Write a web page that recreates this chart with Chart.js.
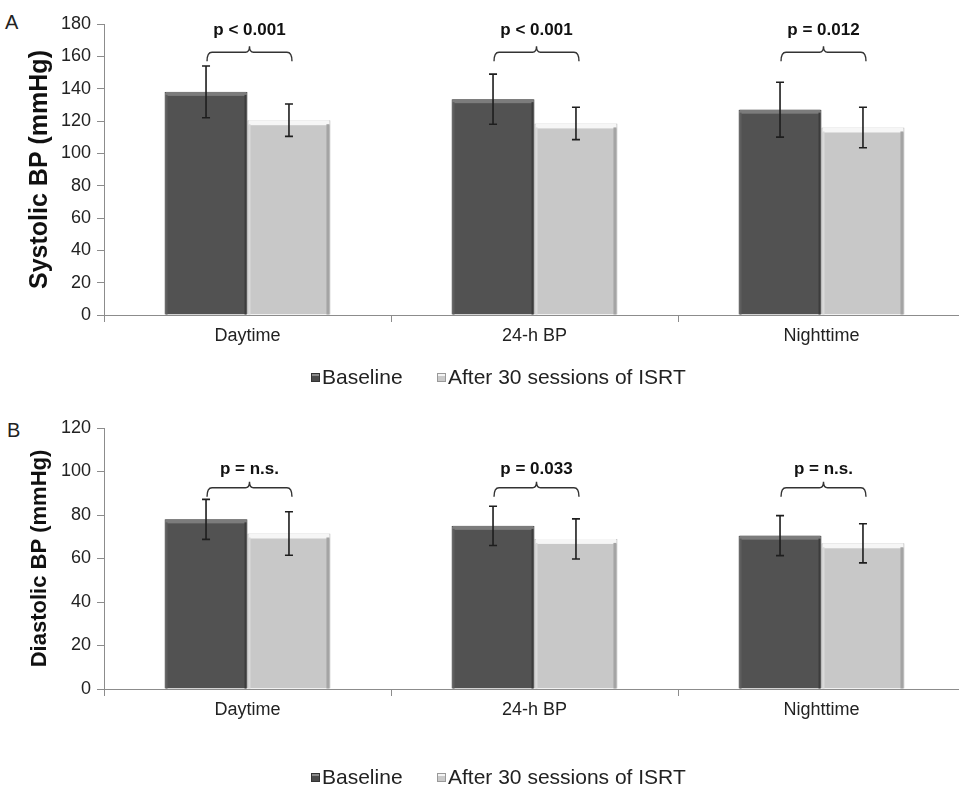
<!DOCTYPE html>
<html><head><meta charset="utf-8">
<script src="https://cdn.jsdelivr.net/npm/chart.js@4.4.1/dist/chart.umd.min.js"></script>
<style>
html,body{margin:0;padding:0;width:959px;height:788px;overflow:hidden;background:#fff;font-family:"Liberation Sans",Arial,sans-serif;}
.wrap{position:absolute;left:0;}
#wrapA{top:0;}
#wrapB{top:400px;}
.panel{position:absolute;font-size:20px;color:#222;line-height:20px;}
.lg{position:absolute;font-size:21px;color:#222;line-height:24px;white-space:nowrap;display:flex;align-items:center;}
.sw{display:inline-block;width:9px;height:9px;margin-right:2px;box-sizing:border-box;}
.sw.dark{background:linear-gradient(#8a8a8a 0,#8a8a8a 2px,#4a4a4a 2px);border:1px solid #333;}
.sw.light{background:linear-gradient(#f4f4f4 0,#f4f4f4 2px,#c9c9c9 2px);border:1px solid #999;}
</style></head>
<body>
<div class="panel" style="left:5px;top:12px;">A</div>
<div class="panel" style="left:7px;top:420px;">B</div>
<div class="wrap" id="wrapA"><canvas id="cA" width="970" height="400"></canvas></div>
<div class="wrap" id="wrapB"><canvas id="cB" width="970" height="388"></canvas></div>
<div class="lg" style="left:311px;top:365px;"><span class="sw dark"></span>Baseline</div>
<div class="lg" style="left:437px;top:365px;"><span class="sw light"></span>After 30 sessions of ISRT</div>
<div class="lg" style="left:311px;top:765px;"><span class="sw dark"></span>Baseline</div>
<div class="lg" style="left:437px;top:765px;"><span class="sw light"></span>After 30 sessions of ISRT</div>
<script>
// ---- data ----
const categories = ['Daytime', '24-h BP', 'Nighttime'];
const seriesNames = ['Baseline', 'After 30 sessions of ISRT'];

const sbpBaseline = [138, 133.5, 127];
const sbpBaselineSD = [16, 15.5, 17];
const sbpAfter = [120.5, 118.5, 116];
const sbpAfterSD = [10, 10, 12.5];
const sbpPLabels = ['p < 0.001', 'p < 0.001', 'p = 0.012'];
const sbpTickMax = 180;

const dbpBaseline = [78, 75, 70.5];
const dbpBaselineSD = [9.2, 9, 9.2];
const dbpAfter = [71.5, 69, 67];
const dbpAfterSD = [10, 9.2, 9];
const dbpPLabels = ['p = n.s.', 'p = 0.033', 'p = n.s.'];
const dbpTickMax = 120;

const tickStep = 20;

// ---- drawing helpers ----
const FONT = '"Liberation Sans", Arial, sans-serif';

const decorPlugin = {
  id: 'decor',
  afterDatasetsDraw(chart, args, opts) {
    const ctx = chart.ctx;
    const ys = chart.scales.y;
    const metas = [chart.getDatasetMeta(0), chart.getDatasetMeta(1)];
    ctx.save();
    // bevels
    metas.forEach((meta, di) => {
      meta.data.forEach(bar => {
        const p = bar.getProps(['x', 'y', 'base', 'width'], true);
        const l = p.x - p.width / 2, r = p.x + p.width / 2, t = p.y, b = p.base;
        if (di === 0) {
          ctx.fillStyle = '#7c7c7c';
          ctx.fillRect(l + 1, t, p.width - 2, 4);
          ctx.fillStyle = '#3c3c3c';
          ctx.fillRect(r - 3, t + 3, 2, b - t - 3);
          ctx.fillStyle = '#5e5e5e';
          ctx.fillRect(l + 1, t + 3, 2, b - t - 3);
        } else {
          ctx.fillStyle = '#f6f6f6';
          ctx.fillRect(l + 1, t, p.width - 2, 5);
          ctx.fillStyle = '#a4a4a4';
          ctx.fillRect(r - 4, t + 4, 3, b - t - 4);
          ctx.fillStyle = '#dadada';
          ctx.fillRect(l + 1, t + 4, 2, b - t - 4);
        }
      });
    });
    // error bars
    ctx.strokeStyle = '#1e1e1e';
    ctx.lineWidth = 1.6;
    metas.forEach((meta, di) => {
      const vals = chart.data.datasets[di].data;
      const sds = opts.sd[di];
      meta.data.forEach((bar, j) => {
        const x = bar.x;
        const yt = ys.getPixelForValue(vals[j] + sds[j]);
        const yb = ys.getPixelForValue(vals[j] - sds[j]);
        ctx.beginPath();
        ctx.moveTo(x, yt); ctx.lineTo(x, yb);
        ctx.moveTo(x - 4, yt); ctx.lineTo(x + 4, yt);
        ctx.moveTo(x - 4, yb); ctx.lineTo(x + 4, yb);
        ctx.stroke();
      });
    });
    // brackets and p labels
    ctx.strokeStyle = '#333';
    ctx.lineWidth = 1.4;
    const yb = ys.getPixelForValue(opts.bracketLevel);
    const yl = ys.getPixelForValue(opts.labelLevel);
    metas[0].data.forEach((bar, j) => {
      const x1 = bar.x + 1, x2 = metas[1].data[j].x + 3;
      const xm = (x1 + x2) / 2;
      ctx.beginPath();
      ctx.moveTo(x1, yb + 9);
      ctx.quadraticCurveTo(x1, yb, x1 + 5, yb);
      ctx.lineTo(xm - 4, yb);
      ctx.quadraticCurveTo(xm, yb, xm, yb - 6);
      ctx.quadraticCurveTo(xm, yb, xm + 4, yb);
      ctx.lineTo(x2 - 5, yb);
      ctx.quadraticCurveTo(x2, yb, x2, yb + 9);
      ctx.stroke();
      ctx.fillStyle = '#111';
      ctx.font = 'bold 17px ' + FONT;
      ctx.textAlign = 'center';
      ctx.textBaseline = 'middle';
      ctx.fillText(opts.labels[j], xm, yl);
    });
    ctx.restore();
  }
};

function makeChart(id, base, after, sdB, sdA, labels, ymax, title, titleSize, titlePad, padTop, xH, bracketLevel, labelLevel) {
  return new Chart(document.getElementById(id), {
    type: 'bar',
    data: {
      labels: categories,
      datasets: [
        { label: seriesNames[0], data: base, backgroundColor: '#525252', borderColor: '#3a3a3a', borderWidth: 1,
          categoryPercentage: 0.578, barPercentage: 1 },
        { label: seriesNames[1], data: after, backgroundColor: '#c8c8c8', borderColor: '#a8a8a8', borderWidth: 1,
          categoryPercentage: 0.578, barPercentage: 1 }
      ]
    },
    options: {
      responsive: false,
      animation: false,
      devicePixelRatio: 1,
      layout: { padding: { left: 0, top: padTop, right: 5, bottom: 0 } },
      plugins: {
        legend: { display: false },
        tooltip: { enabled: false },
        decor: { sd: [sdB, sdA], labels: labels, bracketLevel: bracketLevel, labelLevel: labelLevel }
      },
      scales: {
        x: {
          offset: true,
          grid: { display: true, drawOnChartArea: false, offset: true, color: '#8c8c8c', tickLength: 7 },
          border: { color: '#8c8c8c', width: 1 },
          ticks: { color: '#222', font: { family: FONT, size: 18 }, padding: 3 },
          afterFit: s => { s.height = xH; }
        },
        y: {
          min: 0, max: ymax,
          ticks: { stepSize: tickStep, color: '#222', font: { family: FONT, size: 18 }, padding: 6 },
          grid: { display: true, drawOnChartArea: false, color: '#8c8c8c', tickLength: 7 },
          border: { color: '#8c8c8c', width: 1 },
          title: { display: true, text: title, color: '#111', font: { family: FONT, size: titleSize, weight: 'bold' }, padding: { top: titlePad, bottom: 0 } },
          afterFit: s => { s.width = 104; }
        }
      }
    },
    plugins: [decorPlugin]
  });
}

makeChart('cA', sbpBaseline, sbpAfter, sbpBaselineSD, sbpAfterSD, sbpPLabels, sbpTickMax,
  'Systolic BP (mmHg)', 25, 25, 24, 85, 162.5, 175.8);
makeChart('cB', dbpBaseline, dbpAfter, dbpBaselineSD, dbpAfterSD, dbpPLabels, dbpTickMax,
  'Diastolic BP (mmHg)', 22, 27, 28, 99, 92.5, 101);
</script>
</body></html>
